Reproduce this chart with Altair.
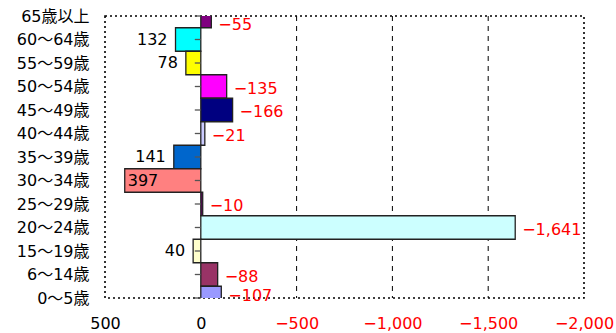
import altair as alt
import pandas as pd

# Age groups, top to bottom, with their net change and bar colour
groups = ["65歳以上", "60～64歳", "55～59歳", "50～54歳", "45～49歳", "40～44歳",
          "35～39歳", "30～34歳", "25～29歳", "20～24歳", "15～19歳", "6～14歳", "0～5歳"]
values = [-55, 132, 78, -135, -166, -21, 141, 397, -10, -1641, 40, -88, -107]
colors = ["#800080", "#00FFFF", "#FFFF00", "#FF00FF", "#000080", "#CCCCFF",
          "#0066CC", "#FF8080", "#660066", "#CCFFFF", "#FFFFCC", "#993366", "#9999FF"]
x_ticks = [500, 0, -500, -1000, -1500, -2000]
grid_at = [-500, -1000, -1500]

FONT = "DejaVu Sans, Noto Sans CJK JP"
df = pd.DataFrame({"group": groups, "value": values, "color": colors,
                   "pos": list(range(len(groups)))})
grid_df = pd.DataFrame({"value": grid_at})

fmt = "(datum.value < 0 ? '−' : '') + format(abs(datum.value), ',')"
x_axis = alt.Axis(values=x_ticks, labelExpr=fmt, ticks=False, domain=False, grid=False,
                  title=None, labelPadding=17, labelFontSize=16, labelFont=FONT,
                  labelFontWeight="normal", labelFlush=False, labelOverlap=False,
                  labelBound=False,
                  labelColor={"condition": {"test": "datum.value < 0", "value": "#FF0000"},
                              "value": "#000000"})
names_js = "[" + ",".join("'%s'" % g for g in groups) + "]"
y_axis = alt.Axis(values=list(range(len(groups))), labelExpr=names_js + "[datum.value]",
                  ticks=False, domain=False, grid=False, title=None, labelPadding=16,
                  labelFontSize=16, labelFont=FONT, labelColor="#000000",
                  labelFlush=False, labelOverlap=False, labelBound=False)

x_scale = alt.Scale(domain=[-2000, 500], reverse=True, nice=False, zero=False)
y_scale = alt.Scale(domain=[0, len(groups) - 1], reverse=True, nice=False, zero=False)

base = alt.Chart(df)

grid = alt.Chart(grid_df).mark_rule(color="#000000", strokeDash=[5, 5], strokeWidth=1).encode(
    x=alt.X("value:Q", scale=x_scale, axis=x_axis)
)

bars = base.transform_calculate(
    lo="datum.pos - 0.5", hi="datum.pos + 0.5"
).mark_rect(stroke="#222222", strokeWidth=1.3, clip=True).encode(
    x=alt.X("value:Q", scale=x_scale, axis=x_axis),
    x2=alt.datum(0),
    y=alt.Y("lo:Q", scale=y_scale, axis=y_axis),
    y2="hi:Q",
    color=alt.Color("color:N", scale=None),
)

ticks = base.mark_rule(color="#555555", strokeWidth=1.3, xOffset=-6).encode(
    x=alt.datum(0),
    x2=alt.datum(0),
    y=alt.Y("pos:Q", scale=y_scale, axis=y_axis),
)

labelled = base.transform_calculate(
    label=fmt, lab_pos="clamp(datum.pos, 0.3, 11.85)"
)

text_pos = labelled.transform_filter("datum.value > 0 && datum.value <= 300").mark_text(
    align="right", baseline="middle", dx=-8, fontSize=16, font=FONT, color="#000000"
).encode(
    x=alt.X("value:Q", scale=x_scale, axis=x_axis),
    y=alt.Y("lab_pos:Q", scale=y_scale, axis=y_axis),
    text="label:N",
)

text_inside = labelled.transform_filter("datum.value > 300").mark_text(
    align="left", baseline="middle", dx=3, fontSize=16, font=FONT, color="#000000"
).encode(
    x=alt.X("value:Q", scale=x_scale, axis=x_axis),
    y=alt.Y("lab_pos:Q", scale=y_scale, axis=y_axis),
    text="label:N",
)

text_neg = labelled.transform_filter("datum.value < 0").mark_text(
    align="left", baseline="middle", dx=7, dy=2, fontSize=16, font=FONT, color="#FF0000"
).encode(
    x=alt.X("value:Q", scale=x_scale, axis=x_axis),
    y=alt.Y("lab_pos:Q", scale=y_scale, axis=y_axis),
    text="label:N",
)

chart = alt.layer(grid, bars, ticks, text_pos, text_inside, text_neg).properties(
    width=479, height=282,
    autosize=alt.AutoSizeParams(type="none"),
    padding={"left": 105, "top": 16, "right": 32, "bottom": 35},
    background="#FFFFFF",
).configure_view(
    stroke="#000000", strokeDash=[2, 3], strokeWidth=1.6
)

chart.save("out.html", embed_options={"renderer": "svg", "actions": False})
